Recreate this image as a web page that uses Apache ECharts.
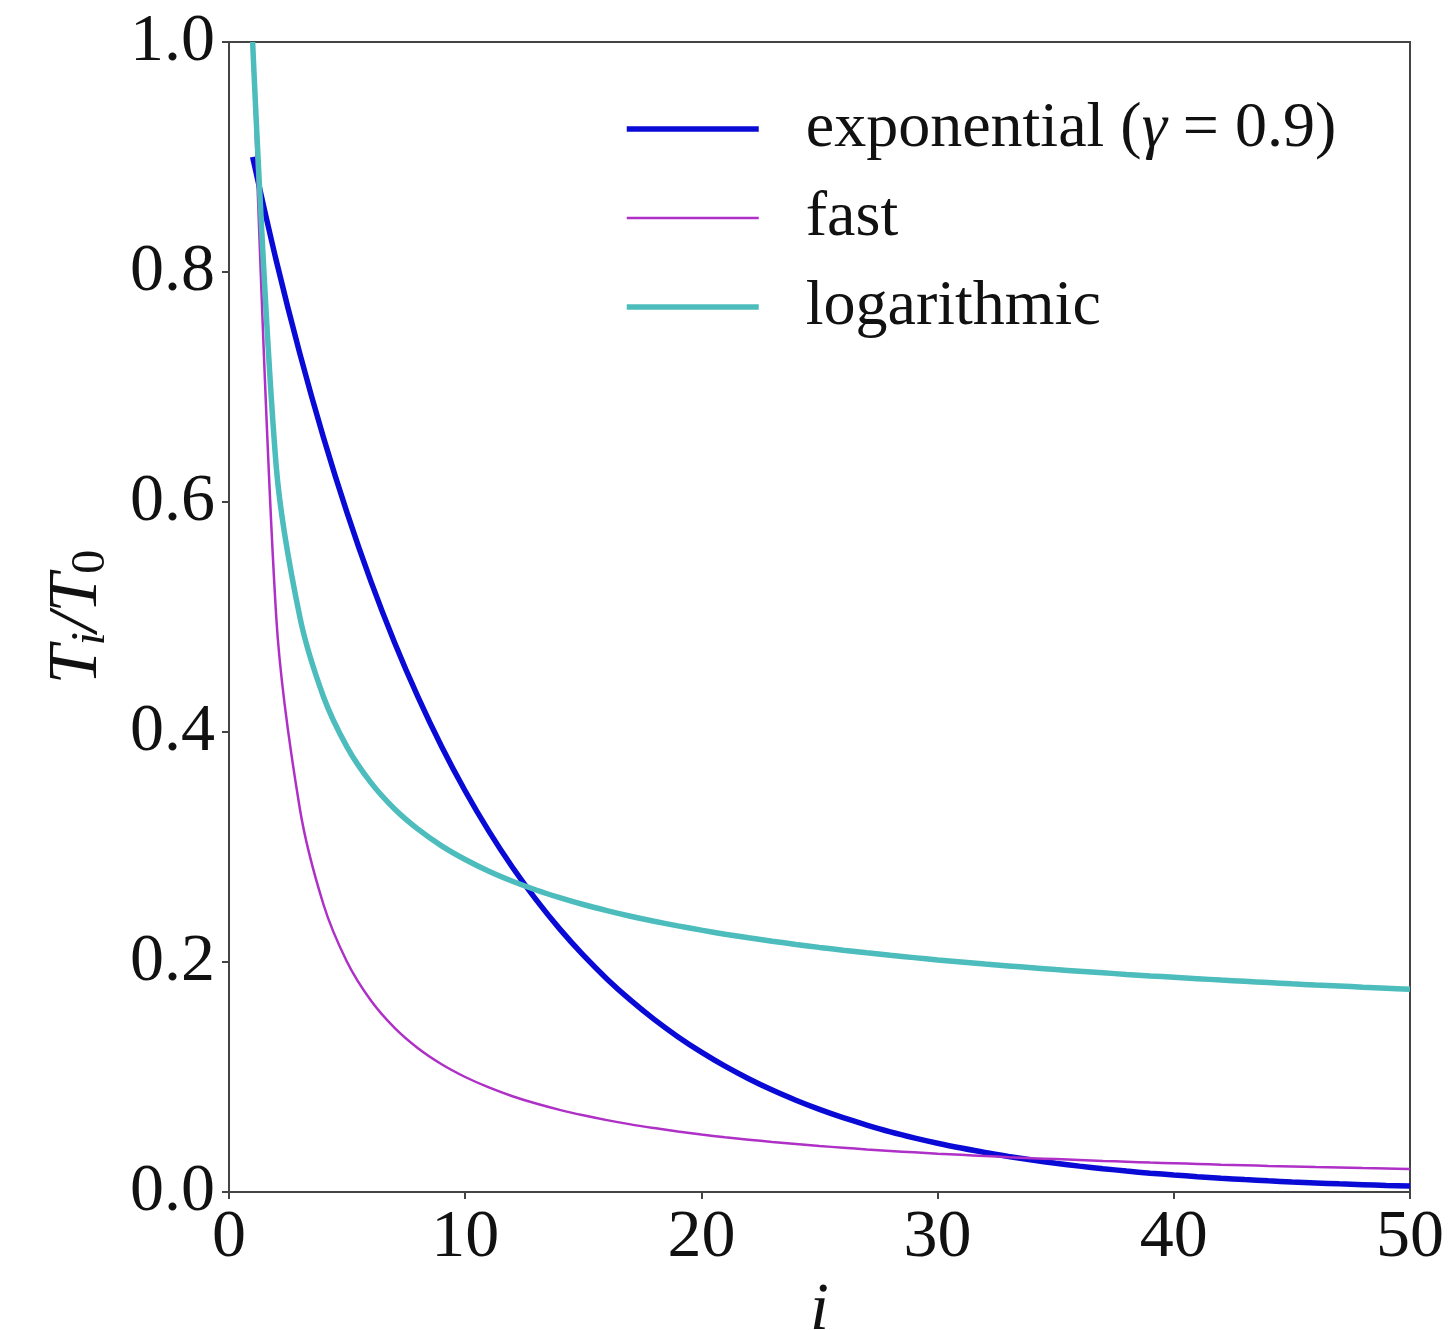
<!DOCTYPE html>
<html>
<head>
<meta charset="utf-8">
<script src="https://cdn.jsdelivr.net/npm/echarts@6/dist/echarts.min.js"></script>
<style>
html,body{margin:0;padding:0;background:#fff;}
#chart{width:1456px;height:1330px;}
</style>
</head>
<body>
<div id="chart"></div>
<script>
// iteration index i
const iterations = [1,2,3,4,5,6,7,8,9,10,11,12,13,14,15,16,17,18,19,20,21,22,23,24,25,26,27,28,29,30,31,32,33,34,35,36,37,38,39,40,41,42,43,44,45,46,47,48,49,50];

// T_i / T_0, exponential schedule (gamma = 0.9)
const exponentialValues = [0.9000,0.8100,0.7290,0.6561,0.5905,0.5314,0.4783,0.4305,0.3874,0.3487,0.3138,0.2824,0.2542,0.2288,0.2059,0.1853,0.1668,0.1501,0.1351,0.1216,0.1094,0.0985,0.0886,0.0798,0.0718,0.0646,0.0582,0.0523,0.0471,0.0424,0.0382,0.0343,0.0309,0.0278,0.0250,0.0225,0.0203,0.0182,0.0164,0.0148,0.0133,0.0120,0.0108,0.0097,0.0087,0.0079,0.0071,0.0064,0.0057,0.0052];

// T_i / T_0, fast schedule
const fastValues = [1.0000,0.5000,0.3333,0.2500,0.2000,0.1667,0.1429,0.1250,0.1111,0.1000,0.0909,0.0833,0.0769,0.0714,0.0667,0.0625,0.0588,0.0556,0.0526,0.0500,0.0476,0.0455,0.0435,0.0417,0.0400,0.0385,0.0370,0.0357,0.0345,0.0333,0.0323,0.0313,0.0303,0.0294,0.0286,0.0278,0.0270,0.0263,0.0256,0.0250,0.0244,0.0238,0.0233,0.0227,0.0222,0.0217,0.0213,0.0208,0.0204,0.0200];

// T_i / T_0, logarithmic schedule
const logarithmicValues = [1.0000,0.6309,0.5000,0.4307,0.3869,0.3562,0.3333,0.3155,0.3010,0.2891,0.2789,0.2702,0.2626,0.2560,0.2500,0.2447,0.2398,0.2354,0.2314,0.2277,0.2242,0.2211,0.2181,0.2153,0.2127,0.2103,0.2080,0.2058,0.2038,0.2018,0.2000,0.1982,0.1966,0.1950,0.1934,0.1920,0.1906,0.1892,0.1879,0.1867,0.1855,0.1843,0.1832,0.1821,0.1810,0.1800,0.1791,0.1781,0.1772,0.1763];

const seriesNames = ['exponential', 'fast', 'logarithmic'];
const seriesColors = ['#0a0ad6', '#ae30c6', '#4cbcbc'];
const seriesWidths = [5.5, 2.5, 5.5];
const xTicks = [0, 10, 20, 30, 40, 50];
const yTicks = [0.0, 0.2, 0.4, 0.6, 0.8, 1.0];

const FONT = '"Liberation Serif", "DejaVu Serif", serif';

function pairs(vals) { return iterations.map((x, k) => [x, vals[k]]); }

const chart = echarts.init(document.getElementById('chart'), null, {renderer: 'canvas'});

chart.setOption({
  backgroundColor: '#ffffff',
  animation: false,
  grid: {
    left: 229, right: 46, top: 42, bottom: 138,
    outerBoundsMode: 'none', containLabel: false,
    show: true, borderColor: '#444', borderWidth: 2, backgroundColor: 'transparent'
  },
  legend: {
    orient: 'vertical',
    left: 619, top: 92,
    itemWidth: 132, itemHeight: 14,
    itemGap: 25,
    data: seriesNames.map((n, k) => ({
      name: n,
      itemStyle: {opacity: 0, borderWidth: 0},
      lineStyle: {width: seriesWidths[k], color: seriesColors[k], opacity: 1}
    })),
    formatter: function (name) {
      if (name === 'exponential') return '{a|exponential (}{g|γ}{a| = 0.9)}';
      return '{a|' + name + '}';
    },
    textStyle: {
      padding: [0, 0, 0, 42],
      rich: {
        a: {fontFamily: FONT, fontSize: 64, color: '#111', lineHeight: 62},
        g: {fontFamily: FONT, fontSize: 64, fontStyle: 'italic', color: '#111', lineHeight: 62}
      }
    }
  },
  xAxis: {
    type: 'value', min: 0, max: 50, interval: 10,
    name: 'i', nameLocation: 'middle', nameGap: 84,
    nameTextStyle: {fontFamily: FONT, fontSize: 68, fontStyle: 'italic', color: '#111'},
    axisLine: {show: true, onZero: false, lineStyle: {color: '#444', width: 2}},
    axisTick: {show: true, length: 7, lineStyle: {color: '#444', width: 2}},
    axisLabel: {fontFamily: FONT, fontSize: 68, color: '#111', margin: 12,
      formatter: v => xTicks.indexOf(v) >= 0 ? String(v) : ''},
    splitLine: {show: false}
  },
  yAxis: {
    type: 'value', min: 0, max: 1.0, interval: 0.2,
    name: '{t|T}{s|i}{t|/T}{z|0}', nameLocation: 'middle', nameGap: 114,
    nameRotate: 90,
    nameTextStyle: {
      rich: {
        t: {fontFamily: FONT, fontSize: 70, fontStyle: 'italic', color: '#111'},
        s: {fontFamily: FONT, fontSize: 48, fontStyle: 'italic', color: '#111', padding: [26, 0, 0, 0]},
        z: {fontFamily: FONT, fontSize: 48, color: '#111', padding: [26, 0, 0, 0]}
      }
    },
    axisLine: {show: true, lineStyle: {color: '#444', width: 2}},
    axisTick: {show: true, length: 7, lineStyle: {color: '#444', width: 2}},
    axisLabel: {fontFamily: FONT, fontSize: 68, color: '#111', margin: 14,
      formatter: v => yTicks.some(t => Math.abs(t - v) < 1e-9) ? v.toFixed(1) : ''},
    splitLine: {show: false}
  },
  series: seriesNames.map((n, k) => ({
    name: n, type: 'line',
    data: pairs([exponentialValues, fastValues, logarithmicValues][k]),
    symbol: 'none', smooth: 0.3,
    lineStyle: {color: seriesColors[k], width: seriesWidths[k]},
    itemStyle: {color: seriesColors[k]},
    z: 2 + k
  }))
});
</script>
</body>
</html>
